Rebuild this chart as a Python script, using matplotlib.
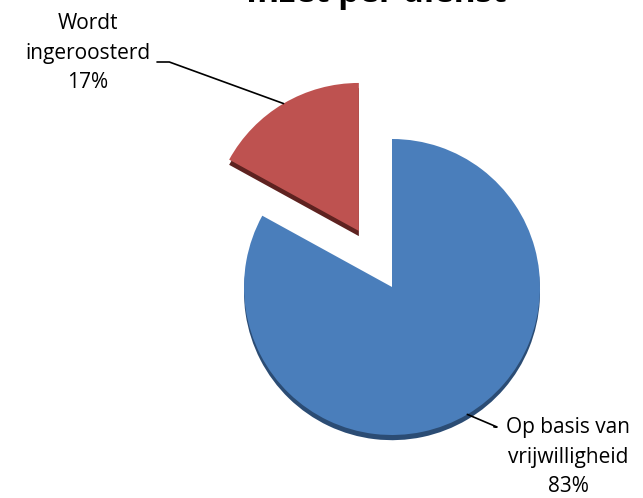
import numpy as np
import matplotlib
matplotlib.use('Agg')
import matplotlib.pyplot as plt

# data
labels = ['Op basis van\nvrijwilligheid', 'Wordt\ningeroosterd']
values = [83, 17]
colors = ['#4a7ebb', '#be5250']
shadow_colors = ['#2b4c74', '#5e2220']
explode = [0, 0.44]
title = 'Inzet per dienst'

W, H = 643, 498
cx, cy, R = 392, 287, 148   # pie centre / radius in pixels

plt.rcParams['font.family'] = ['Open Sans', 'DejaVu Sans']

fig = plt.figure(figsize=(W / 100, H / 100), dpi=100)
ax = fig.add_axes([0, 0, 1, 1])

# 3D-ish depth: dark copy slightly lower
ax.pie(values, explode=explode, colors=shadow_colors, startangle=90,
       counterclock=False, center=(0, -0.035), frame=True,
       wedgeprops=dict(linewidth=0))
wedges, _ = ax.pie(values, explode=explode, colors=colors, startangle=90,
                   counterclock=False, frame=True,
                   wedgeprops=dict(linewidth=0))
ax.set_xlim(-cx / R, (W - cx) / R)
ax.set_ylim(-(H - cy) / R, cy / R)
ax.set_aspect('auto')
ax.axis('off')

def px(x, y):
    return ((x - cx) / R, (cy - y) / R)

def arc_mid(w):
    a = np.deg2rad((w.theta1 + w.theta2) / 2)
    return (w.center[0] + w.r * np.cos(a), w.center[1] + w.r * np.sin(a))

pct = [f'{v}%' for v in values]

# blue label
ax.text(*px(568, 457), f'{labels[0]}\n{pct[0]}', ha='center', va='center',
        fontsize=15, linespacing=1.55, color='black')
ax.annotate('', xy=arc_mid(wedges[0]), xytext=px(494, 427),
            arrowprops=dict(arrowstyle='-', color='black', lw=1.2,
                            shrinkA=0, shrinkB=0,
                            connectionstyle='angle,angleA=0,angleB=-23,rad=0'))

# red label
ax.text(*px(88, 53), f'{labels[1]}\n{pct[1]}', ha='center', va='center',
        fontsize=15, linespacing=1.55, color='black')
ax.annotate('', xy=arc_mid(wedges[1]), xytext=px(157, 62),
            arrowprops=dict(arrowstyle='-', color='black', lw=1.2,
                            shrinkA=0, shrinkB=0,
                            connectionstyle='angle,angleA=0,angleB=160,rad=0'))

# title, mostly outside the canvas
fig.text(0.585, 1 - 2 / H, title, ha='center', va='baseline',
         fontsize=24, fontweight='bold')

fig.savefig('out.png', dpi=100)
